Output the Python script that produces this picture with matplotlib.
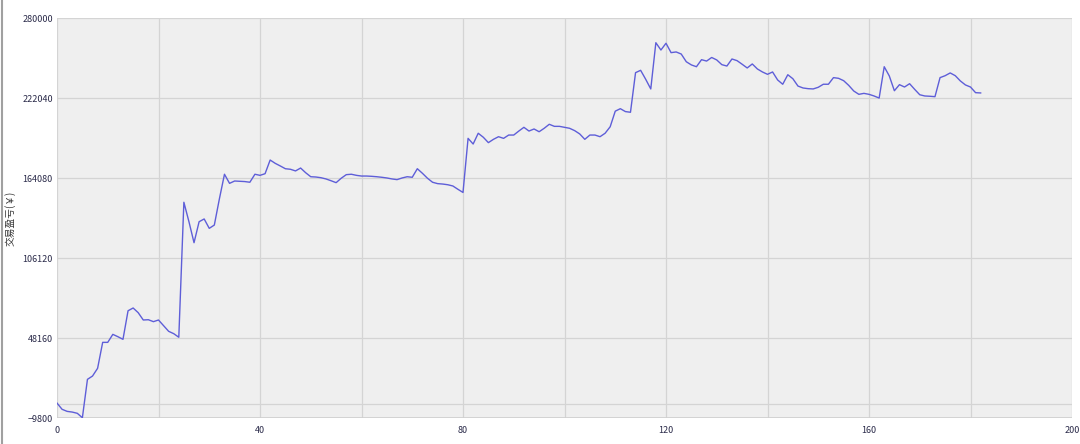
import matplotlib.pyplot as plt
from matplotlib.lines import Line2D

plt.rcParams['font.family'] = ['Noto Sans CJK SC', 'DejaVu Sans']

# cumulative trade P&L, one value per trade
pnl = [
    1000, -3500, -5000, -5500, -6400, -9600, 18200, 20600, 26200, 45000,
    45000, 50800, 49100, 47200, 67900, 69900, 66500, 61200, 61400, 60000,
    61200, 57100, 53000, 51300, 48700, 146500, 132400, 117200, 132400, 134400,
    127600, 130000, 149000, 166800, 160200, 161900, 161700, 161500, 161000, 166800,
    166000, 167200, 177100, 174700, 172800, 170800, 170400, 169200, 171300, 167900,
    165000, 164800, 164300, 163400, 162100, 160700, 163900, 166500, 166800, 166000,
    165500, 165500, 165300, 165000, 164600, 164100, 163400, 162900, 164100, 165000,
    164600, 170800, 167500, 163900, 161000, 160000, 159700, 159200, 158300, 155900,
    153600, 192800, 188700, 196500, 193600, 189700, 192100, 194000, 192800, 195200,
    195200, 198100, 200800, 198100, 199600, 197600, 200100, 203000, 201500, 201500,
    200800, 200100, 198400, 196000, 192100, 195200, 195200, 194000, 196500, 201200,
    212500, 214300, 212200, 211700, 240400, 242100, 235600, 228600, 262100, 256800,
    261700, 254900, 255400, 253900, 248300, 246000, 244700, 249800, 248800, 251400,
    249600, 246200, 245200, 250300, 249100, 246500, 243800, 246700, 243100, 240900,
    239200, 240900, 235100, 232000, 238900, 236000, 230700, 229300, 228800, 228600,
    229800, 232000, 232000, 236800, 236300, 234600, 231200, 227100, 224700, 225400,
    224700, 223500, 222000, 244700, 238000, 227300, 231700, 230000, 232400, 228300,
    224400, 223500, 223300, 223000, 236800, 238200, 240200, 238200, 234400, 231500,
    230000, 225900, 225700,
]
trade_no = list(range(len(pnl)))

y_ticks = [-9800, 48160, 106120, 164080, 222040, 280000]
x_ticks = [0, 40, 80, 120, 160, 200]

fig = plt.figure(figsize=(10.8, 4.44), dpi=100)
ax = fig.add_axes([57 / 1080, 1 - 418 / 444, 1015 / 1080, 400 / 444])
ax.set_facecolor('#efefef')

ax.plot(trade_no, pnl, color='#5e5ed8', lw=1.0, zorder=3)

ax.set_xlim(0, 200)
ax.set_ylim(-9800, 280000)
ax.set_xticks(x_ticks)
ax.set_xticks(range(0, 201, 20), minor=True)
ax.set_yticks(y_ticks)
ax.set_yticks([0], minor=True)
ax.grid(True, which='both', color='#d4d4d4', lw=0.9, zorder=0)
ax.set_axisbelow(True)

ax.tick_params(axis='both', which='both', length=0, labelsize=6.5, colors='#2b2b4a')
ax.tick_params(axis='x', pad=6)
ax.tick_params(axis='y', pad=3)
for s in ax.spines.values():
    s.set_visible(False)
ax.axhline(-9800, color='#cfcfcf', lw=1.2)

ax.set_ylabel('交易盈亏(￥)', fontsize=7, color='#333333')
ax.yaxis.set_label_coords(-0.041, 0.5)

# thin frame line on the left edge of the figure
fig.add_artist(Line2D([2 / 1080, 2 / 1080], [0, 1], transform=fig.transFigure,
                      color='#a0a0a0', lw=1.5))

fig.savefig('out.png', dpi=100, facecolor='white')
